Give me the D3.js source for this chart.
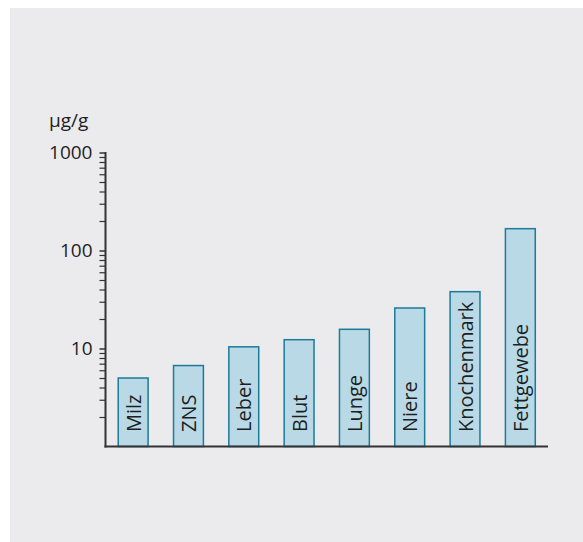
<!DOCTYPE html>
<html><head><meta charset="utf-8">
<script src="https://cdn.jsdelivr.net/npm/d3@7"></script>
<style>body{margin:0;background:#fff}svg{display:block}text{font-family:"Open Sans",sans-serif;fill:#1e1e1e}</style>
</head><body><svg id="c" width="583" height="542"></svg>
<script>
const categories = ["Milz","ZNS","Leber","Blut","Lunge","Niere","Knochenmark","Fettgewebe"];
const values = [5.0, 6.7, 10.4, 12.3, 15.7, 25.9, 38, 167];
const majorTicks = [10, 100, 1000];
const minorTicks = [2,3,4,5,6,7,8,9,20,30,40,50,60,70,80,90,200,300,400,500,600,700,800,900];
const unitLabel = "μg/g";

const svg = d3.select("#c");
svg.append("rect").attr("x",10).attr("y",8).attr("width",573).attr("height",534).attr("fill","#ebebee");

const x = d3.scaleBand().domain(categories).range([105.5,548]).paddingInner(0.46).paddingOuter(0.23);
const y = d3.scaleLog().domain([1,1000]).range([446.5,152.5]);

svg.selectAll("rect.bar").data(categories).enter().append("rect").attr("class","bar")
  .attr("x",d=>x(d)).attr("width",x.bandwidth())
  .attr("y",(d,i)=>y(values[i])).attr("height",(d,i)=>y(1)-y(values[i]))
  .attr("fill","#b8d9e5").attr("stroke","#1c7b98").attr("stroke-width",1.5);

svg.selectAll("text.lbl").data(categories).enter().append("text").attr("class","lbl")
  .attr("transform",d=>`translate(${x(d)+x.bandwidth()/2+7.5},432) rotate(-90)`)
  .attr("font-size",20).text(d=>d);

const yAxis = d3.axisLeft(y).tickValues(majorTicks).tickFormat(d3.format("d")).tickSize(6).tickPadding(7);
const gy = svg.append("g").attr("transform","translate(105.5,0)").call(yAxis);
gy.select(".domain").remove();
gy.selectAll("line").attr("stroke","#333").attr("stroke-width",1.5);
gy.selectAll("text").attr("font-size",19).attr("fill","#1e1e1e").style("font-family","'Open Sans',sans-serif");

const yMinor = d3.axisLeft(y).tickValues(minorTicks).tickFormat("").tickSize(6);
const gm = svg.append("g").attr("transform","translate(105.5,0)").call(yMinor);
gm.select(".domain").remove();
gm.selectAll("line").attr("stroke","#333").attr("stroke-width",1.2);

svg.append("line").attr("x1",105.5).attr("x2",105.5).attr("y1",152).attr("y2",447.5).attr("stroke","#333").attr("stroke-width",2);
svg.append("line").attr("x1",104.5).attr("x2",548).attr("y1",446.5).attr("y2",446.5).attr("stroke","#333").attr("stroke-width",2);

svg.append("text").attr("x",49).attr("y",127).attr("font-size",19).text(unitLabel);
</script></body></html>
